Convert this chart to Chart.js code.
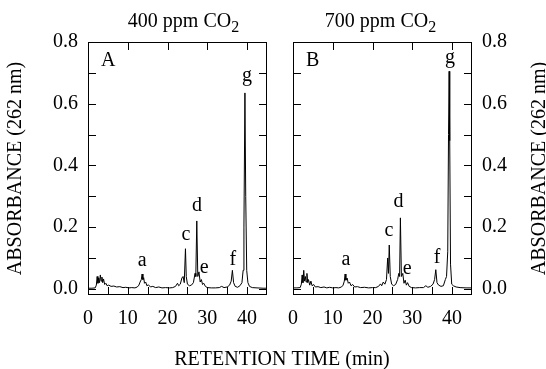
<!DOCTYPE html>
<html>
<head>
<meta charset="utf-8">
<script src="https://cdn.jsdelivr.net/npm/chart.js@4.4.1/dist/chart.umd.min.js"></script>
<style>
  body { margin: 0; background: #fff; }
  #wrap { position: relative; width: 546px; height: 369px; background: #fff; }
  canvas { position: absolute; top: 0; }
</style>
</head>
<body>
<div id="wrap">
  <canvas id="chartA" width="546" height="369" style="left:0"></canvas>
  <canvas id="chartB" width="271" height="369" style="left:275px"></canvas>
</div>
<script>
/******* chromatogram data *******/
// panel A : 400 ppm CO2
const timeA = [0, 1.0, 1.8, 2.1, 2.3, 2.5, 2.7, 2.9, 3.1, 3.3, 3.5, 3.7, 3.9, 4.2, 4.5, 4.8, 5.2, 5.8, 6.5, 7.2,
  8.0, 8.8, 9.5, 10.3, 11.0, 11.8, 12.4, 12.8, 13.1, 13.4, 13.6, 13.8, 14.0, 14.2, 14.5, 14.8, 15.2, 15.7, 16.3, 17.0,
  17.8, 18.6, 19.5, 20.5, 21.3, 22.0, 22.5, 22.8, 23.2, 23.6, 23.9, 24.2, 24.5, 24.7, 25.0, 25.5, 26.0, 26.5, 26.9, 27.1,
  27.35, 27.6, 27.9, 28.2, 28.5, 28.8, 29.1, 29.5, 30.0, 31.0, 32.0, 33.0, 33.6, 34.2, 35.0, 35.6, 36.0, 36.3, 36.6, 37.0,
  37.6, 38.2, 38.7, 39.0, 39.2, 39.45, 39.65, 39.9, 40.2, 40.6, 41.3, 42.5, 44.0, 45.0];
const absA = [0.002, 0.002, 0.003, 0.012, 0.040, 0.018, 0.035, 0.020, 0.045, 0.025, 0.038, 0.020, 0.032, 0.014, 0.018, 0.010, 0.012, 0.008, 0.009, 0.006,
  0.007, 0.004, 0.005, 0.003, 0.004, 0.003, 0.006, 0.012, 0.022, 0.030, 0.048, 0.030, 0.036, 0.018, 0.022, 0.010, 0.013, 0.006, 0.008, 0.004,
  0.006, 0.003, 0.004, 0.003, 0.004, 0.008, 0.018, 0.010, 0.015, 0.035, 0.040, 0.020, 0.130, 0.040, 0.015, 0.010, 0.012, 0.020, 0.050, 0.040,
  0.220, 0.040, 0.055, 0.022, 0.030, 0.014, 0.018, 0.008, 0.004, 0.003, 0.003, 0.004, 0.008, 0.004, 0.006, 0.012, 0.025, 0.060, 0.020, 0.008,
  0.005, 0.010, 0.020, 0.060, 0.200, 0.635, 0.300, 0.060, 0.020, 0.008, 0.004, 0.003, 0.002, 0.002];

// panel B : 700 ppm CO2
const timeB = [0, 1.0, 1.8, 2.1, 2.3, 2.5, 2.7, 2.9, 3.1, 3.3, 3.5, 3.7, 3.9, 4.2, 4.5, 4.8, 5.2, 5.6, 6.3, 7.0,
  7.8, 8.5, 9.2, 10.0, 10.8, 11.5, 12.2, 12.6, 12.9, 13.1, 13.3, 13.6, 13.9, 14.2, 14.6, 15.0, 15.5, 16.2, 17.0, 18.0,
  19.0, 20.0, 20.8, 21.5, 22.0, 22.3, 22.7, 23.1, 23.5, 23.8, 24.0, 24.2, 24.45, 24.8, 25.3, 25.8, 26.3, 26.6, 26.8, 27.0,
  27.25, 27.6, 27.9, 28.2, 28.5, 28.8, 29.2, 29.8, 30.8, 31.8, 32.8, 33.4, 33.9, 34.6, 35.2, 35.6, 35.9, 36.2, 36.6, 37.2,
  37.8, 38.3, 38.6, 38.9, 39.1, 39.25, 39.4, 39.6, 39.9, 40.3, 41.0, 42.0, 43.5, 45.0];
const absB = [0.003, 0.003, 0.004, 0.015, 0.045, 0.020, 0.060, 0.025, 0.040, 0.022, 0.050, 0.020, 0.030, 0.012, 0.025, 0.010, 0.014, 0.006, 0.007, 0.004,
  0.006, 0.003, 0.005, 0.003, 0.004, 0.003, 0.006, 0.012, 0.025, 0.048, 0.028, 0.035, 0.018, 0.022, 0.010, 0.014, 0.006, 0.007, 0.004, 0.005,
  0.003, 0.004, 0.004, 0.008, 0.016, 0.010, 0.022, 0.015, 0.030, 0.100, 0.050, 0.142, 0.040, 0.015, 0.010, 0.014, 0.030, 0.050, 0.040, 0.230,
  0.040, 0.050, 0.018, 0.028, 0.012, 0.020, 0.008, 0.004, 0.003, 0.004, 0.004, 0.010, 0.005, 0.008, 0.015, 0.030, 0.062, 0.020, 0.012, 0.008,
  0.010, 0.030, 0.040, 0.120, 0.500, 0.705, 0.480, 0.080, 0.015, 0.010, 0.006, 0.004, 0.003, 0.003];

// axes
const xLabelTicks = [0, 10, 20, 30, 40];
const xBottomMarks = [5, 10, 15, 20, 25, 30, 35, 40];
const xTopMarks = [10, 20, 30, 40];
const yLabelTicks = [0, 0.2, 0.4, 0.6, 0.8];
const yMarks = [0, 0.1, 0.2, 0.3, 0.4, 0.5, 0.6, 0.7];

// peak letters: retention time and height of the letter baseline
const peakNames = ['a', 'c', 'd', 'e', 'f', 'g'];
const peakTimeA = [13.6, 24.6, 27.4, 29.2, 36.4, 40.0];
const peakLabelA = [0.074, 0.158, 0.252, 0.051, 0.077, 0.673];
const peakTimeB = [13.3, 24.1, 26.5, 28.7, 36.2, 39.5];
const peakLabelB = [0.077, 0.171, 0.265, 0.048, 0.084, 0.732];

const FONT = "'Liberation Serif', 'Times New Roman', serif";
Chart.defaults.font.family = FONT;
Chart.defaults.font.size = 20;
Chart.defaults.color = '#000';

/******* frame + inward tick marks *******/
const framePlugin = {
  id: 'frame',
  afterDraw(chart) {
    const {ctx, chartArea: a, scales: {x, y}} = chart;
    ctx.save();
    ctx.strokeStyle = '#000';
    ctx.lineWidth = 1;
    ctx.strokeRect(a.left + 0.5, a.top + 0.5, a.width - 1, a.height - 1);
    ctx.beginPath();
    xBottomMarks.forEach(v => {
      const px = Math.round(x.getPixelForValue(v)) + 0.5;
      ctx.moveTo(px, a.bottom); ctx.lineTo(px, a.bottom - 8);
    });
    xTopMarks.forEach(v => {
      const px = Math.round(x.getPixelForValue(v)) + 0.5;
      ctx.moveTo(px, a.top); ctx.lineTo(px, a.top + 8);
    });
    yMarks.forEach(v => {
      const py = Math.round(y.getPixelForValue(v)) + 0.5;
      ctx.moveTo(a.left, py); ctx.lineTo(a.left + 8, py);
      ctx.moveTo(a.right, py); ctx.lineTo(a.right - 8, py);
    });
    ctx.stroke();
    ctx.restore();
  }
};

/******* texts: panel title, letter, peak names, axis titles *******/
const textPlugin = (panel) => ({
  id: 'texts' + panel.letter,
  afterDraw(chart) {
    const {ctx, chartArea: a, scales: {x, y}} = chart;
    ctx.save();
    ctx.fillStyle = '#000';
    // title with subscript 2
    ctx.font = '20px ' + FONT;
    const mainW = ctx.measureText(panel.title).width;
    ctx.font = '16px ' + FONT;
    const subW = ctx.measureText('2').width;
    const start = (a.left + a.right) / 2 + panel.titleShift - (mainW + subW) / 2;
    ctx.textAlign = 'left';
    ctx.textBaseline = 'alphabetic';
    ctx.font = '20px ' + FONT;
    ctx.fillText(panel.title, start, 27);
    ctx.font = '16px ' + FONT;
    ctx.fillText('2', start + mainW, 32);
    // panel letter
    ctx.font = '20px ' + FONT;
    ctx.fillText(panel.letter, a.left + 13, a.top + 24);
    // peak names
    ctx.textAlign = 'center';
    peakNames.forEach((n, i) => {
      ctx.fillText(n, x.getPixelForValue(panel.peakTime[i]), y.getPixelForValue(panel.peakLabel[i]));
    });
    // y title, read bottom to top on both sides
    ctx.save();
    const tx = panel.side === 'left' ? a.left - 72 : a.right + 68;
    ctx.translate(tx, (a.top + a.bottom) / 2);
    ctx.rotate(-Math.PI / 2);
    ctx.textBaseline = 'middle';
    ctx.fillText('ABSORBANCE (262 nm)', 0, 0);
    ctx.restore();
    // shared x title lives on the wide left canvas
    if (panel.xTitle) {
      ctx.textAlign = 'center';
      ctx.fillText('RETENTION TIME (min)', 282, 365);
    }
    ctx.restore();
  }
});

function makeChart(id, times, values, panel) {
  const isLeft = panel.side === 'left';
  return new Chart(document.getElementById(id), {
    type: 'line',
    data: {
      datasets: [{
        data: times.map((t, i) => ({x: t, y: values[i]})),
        borderColor: '#000',
        borderWidth: 1,
        pointRadius: 0,
        tension: 0
      }]
    },
    options: {
      responsive: false,
      animation: false,
      devicePixelRatio: 1,
      layout: {
        padding: isLeft ? {top: 42, right: 279, left: 0, bottom: 0} : {top: 42, right: 0, left: 18, bottom: 0}
      },
      plugins: {
        legend: {display: false},
        tooltip: {enabled: false}
      },
      scales: {
        x: {
          type: 'linear', min: 0, max: 45,
          grid: {display: false, drawTicks: false},
          border: {display: false},
          afterBuildTicks: s => { s.ticks = xLabelTicks.map(v => ({value: v})); },
          afterFit: s => { s.height = 74; },
          ticks: {padding: 12, maxRotation: 0, callback: v => String(v)}
        },
        y: {
          type: 'linear', position: panel.side, min: -0.02, max: 0.8,
          grid: {display: false, drawTicks: false},
          border: {display: false},
          afterBuildTicks: s => { s.ticks = yLabelTicks.map(v => ({value: v})); },
          afterFit: s => { s.width = isLeft ? 88 : 74; },
          ticks: {padding: 10, callback: v => v.toFixed(1)}
        }
      }
    },
    plugins: [framePlugin, textPlugin(panel)]
  });
}

makeChart('chartA', timeA, absA, {
  side: 'left', letter: 'A', title: '400 ppm CO', titleShift: 6,
  peakTime: peakTimeA, peakLabel: peakLabelA, xTitle: true
});
makeChart('chartB', timeB, absB, {
  side: 'right', letter: 'B', title: '700 ppm CO', titleShift: -2,
  peakTime: peakTimeB, peakLabel: peakLabelB, xTitle: false
});
</script>
</body>
</html>
